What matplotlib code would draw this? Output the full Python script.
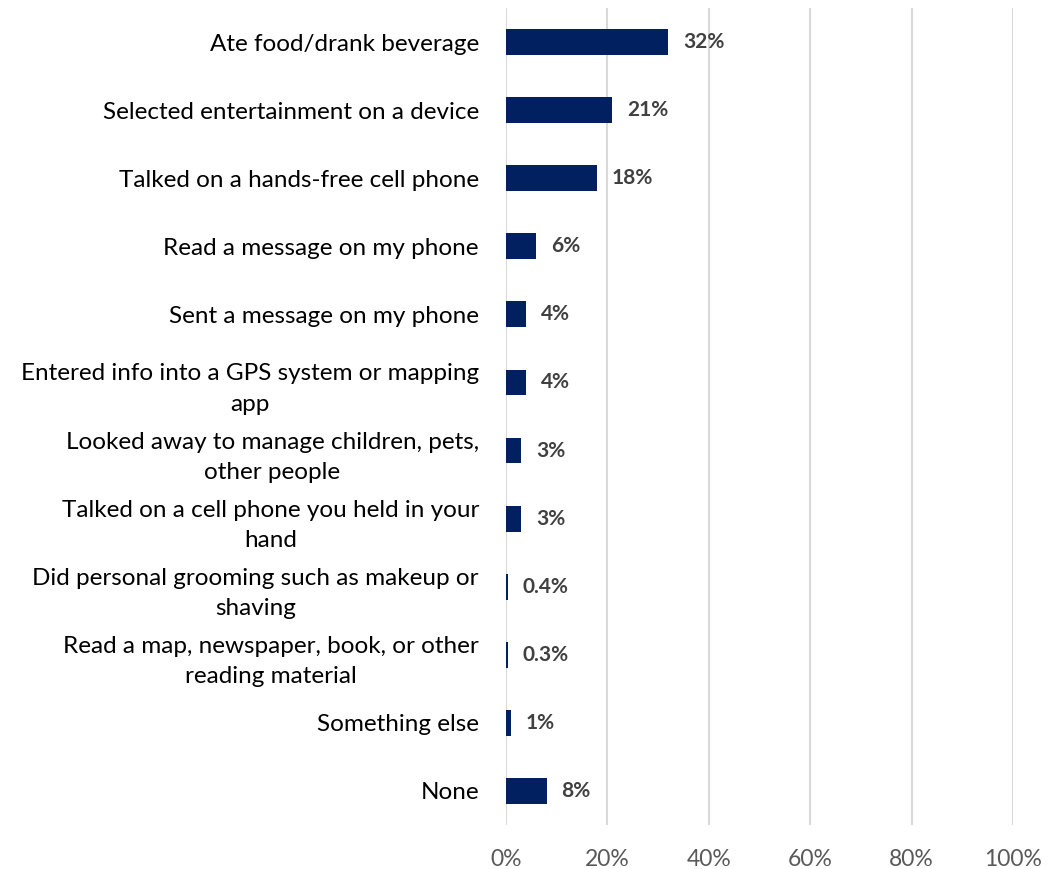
import numpy as np
import matplotlib.pyplot as plt

categories = [
    "Ate food/drank beverage",
    "Selected entertainment on a device",
    "Talked on a hands-free cell phone",
    "Read a message on my phone",
    "Sent a message on my phone",
    "Entered info into a GPS system or mapping\napp",
    "Looked away to manage children, pets,\nother people",
    "Talked on a cell phone you held in your\nhand",
    "Did personal grooming such as makeup or\nshaving",
    "Read a map, newspaper, book, or other\nreading material",
    "Something else",
    "None",
]
values = [32, 21, 18, 6, 4, 4, 3, 3, 0.4, 0.3, 1, 8]
value_labels = ["32%", "21%", "18%", "6%", "4%", "4%", "3%", "3%", "0.4%", "0.3%", "1%", "8%"]
ticks = [0, 20, 40, 60, 80, 100]

plt.rcParams['font.family'] = ['Lato', 'DejaVu Sans']

fig = plt.figure(figsize=(10.54, 8.69), dpi=100)
ax = fig.add_axes([0.4801, 0.0506, 0.4810, 0.9402])

y = np.arange(len(categories))
ax.barh(y, values, height=0.38, color="#002060", zorder=3)

for yi, v, lab in zip(y, values, value_labels):
    ax.annotate(lab, (v, yi), xytext=(10.5, 0), textcoords="offset points",
                va="center", ha="left", fontsize=15, fontweight="bold", color="#404040")

ax.set_xlim(0, 100)
ax.set_ylim(len(categories) - 0.5, -0.5)
ax.set_xticks(ticks)
ax.set_xticklabels([f"{t}%" for t in ticks], fontsize=16.5, color="#595959")
ax.set_yticks(y)
ax.set_yticklabels(categories, fontsize=17.5, color="#000000",
                   multialignment="center", linespacing=1.55)
ax.tick_params(axis="y", length=0, pad=19.5)
ax.tick_params(axis="x", length=0, pad=17)

ax.grid(axis="x", color="#d9d9d9", linewidth=1.5, zorder=0)
for s in ax.spines.values():
    s.set_visible(False)

fig.savefig("out.png", dpi=100)
